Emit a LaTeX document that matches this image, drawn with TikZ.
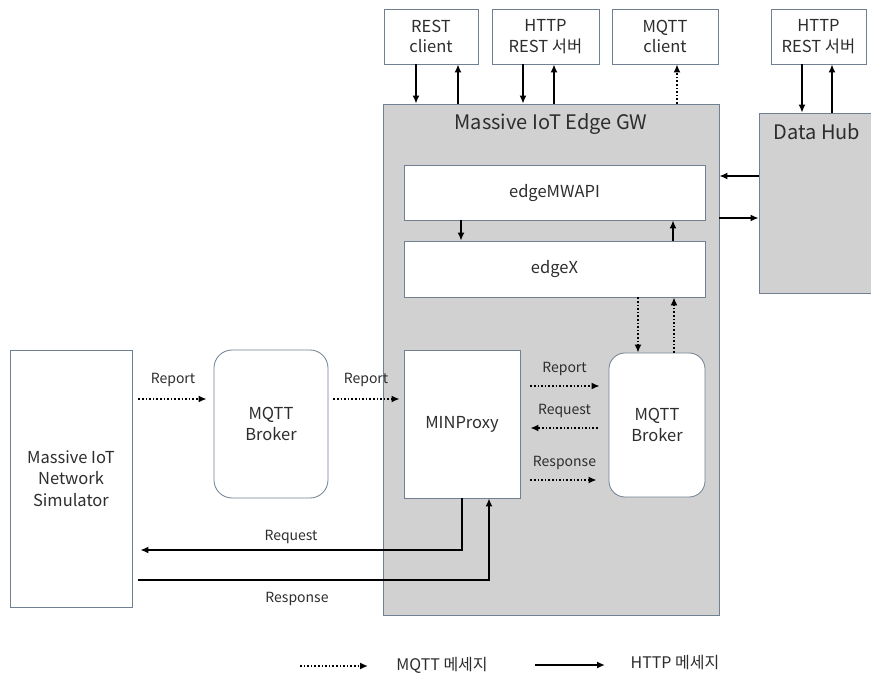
\documentclass[tikz,border=0pt]{standalone}
\usepackage{fontspec}
\setmainfont{Noto Sans CJK KR}
\usepackage{pgf,tikz}
\usetikzlibrary{arrows.meta,calc}
\definecolor{edgecol}{RGB}{112,128,146}
\definecolor{gwgray}{RGB}{209,209,209}
\definecolor{txtgray}{RGB}{45,45,45}
\tikzset{
  blk/.style={draw=edgecol, fill=white, line width=0.8pt, inner sep=0pt, text=txtgray, align=center, font=\fontsize{16.5}{20.5}\selectfont},
  rblk/.style={blk, rounded corners=16pt},
  graybox/.style={draw=edgecol, fill=gwgray, line width=0.8pt, inner sep=0pt},
  http/.style={-{Latex[length=8pt,width=7pt]}, line width=1.6pt, black},
  mqtt/.style={-{Latex[length=8pt,width=7pt]}, line width=1.6pt, dotted, black},
  lbl/.style={font=\fontsize{14}{16}\selectfont, text=txtgray},
}

\begin{document}
\begin{tikzpicture}[x=1pt,y=-1pt]
\path[use as bounding box, clip] (0,0) rectangle (871,679);

% gray blocks
\node[graybox, minimum width=336pt, minimum height=511pt] (gw) at (551,359.5) {};
\node[font=\fontsize{20}{22}\selectfont, text=txtgray] (gwtitle) at (551,124) {Massive IoT Edge GW};
\node[graybox, minimum width=121pt, minimum height=180pt] (hub) at (819.5,203) {};
\node[font=\fontsize{20}{22}\selectfont, text=txtgray] (hubtitle) at (817,132) {Data Hub};

% top clients / servers
\node[blk, minimum width=94pt, minimum height=55pt] (restc) at (431,36.5) {REST\\client};
\node[blk, minimum width=107pt, minimum height=55pt] (https) at (545.5,36.5) {HTTP\\REST 서버};
\node[blk, minimum width=106pt, minimum height=55pt] (mqttc) at (665,36.5) {MQTT\\client};
\node[blk, minimum width=95pt, minimum height=55pt] (hubs) at (818.5,36.5) {HTTP\\REST 서버};

% inside the gateway
\node[blk, minimum width=301pt, minimum height=55pt] (api) at (554.5,192.5) {edgeMWAPI};
\node[blk, minimum width=301pt, minimum height=56pt] (edgex) at (554.5,269) {edgeX};
\node[blk, minimum width=116pt, minimum height=148pt] (minp) at (462,424) {MINProxy};
\node[rblk, minimum width=96pt, minimum height=144pt] (brkin) at (657,425) {MQTT\\Broker};

% left side
\node[rblk, rounded corners=18pt, minimum width=114pt, minimum height=148pt] (brkout) at (271,424) {MQTT\\Broker};
\node[blk, font=\fontsize{16.5}{21.5}\selectfont, minimum width=122pt, minimum height=257pt] (sim) at (71,478.5) {Massive IoT\\Network\\Simulator};

% top arrows
\draw[http] (416,0 |- restc.south) -- (416,0 |- gw.north);
\draw[http] (458,0 |- gw.north) -- (458,0 |- restc.south);
\draw[http] (523,0 |- https.south) -- (523,0 |- gw.north);
\draw[http] (554,0 |- gw.north) -- (554,0 |- https.south);
\draw[mqtt] (677,0 |- gw.north) -- (677,0 |- mqttc.south);
\draw[http] (802,0 |- hubs.south) -- (802,0 |- hub.north);
\draw[http] (832,0 |- hub.north) -- (832,0 |- hubs.south);

% data hub <-> edgeMWAPI
\draw[http] (hub.west |- 0,176) -- (gw.east |- 0,176);
\draw[http] (gw.east |- 0,218) -- (hub.west |- 0,218);

% edgeMWAPI <-> edgeX <-> broker
\draw[http] (461,0 |- api.south) -- (461,0 |- edgex.north);
\draw[http] (673,0 |- edgex.north) -- (673,0 |- api.south);
\draw[mqtt] (638,0 |- edgex.south) -- (638,0 |- brkin.north);
\draw[mqtt] (674,0 |- brkin.north) -- (674,0 |- edgex.south);

% report path
\draw[mqtt, shorten <=6pt, shorten >=7pt] (sim.east |- 0,399) -- node[lbl, above=8pt] (rep1) {Report} (brkout.west |- 0,399);
\draw[mqtt, shorten <=5pt, shorten >=4pt] (brkout.east |- 0,399) -- node[lbl, above=8pt] (rep2) {Report} (minp.west |- 0,399);

% MINProxy <-> broker
\draw[mqtt, shorten <=10pt, shorten >=9pt] (minp.east |- 0,386) -- node[lbl, above=6pt] (rep3) {Report} (brkin.west |- 0,386);
\draw[mqtt, shorten <=11pt, shorten >=10pt] (brkin.west |- 0,428) -- node[lbl, above=6pt] (req1) {Request} (minp.east |- 0,428);
\draw[mqtt, shorten <=10pt, shorten >=12pt] (minp.east |- 0,480) -- node[lbl, above=6pt] (res1) {Response} (brkin.west |- 0,480);

% request / response to simulator
\draw[http, shorten >=8pt] (minp.south) |- (sim.east |- 0,550);
\node[lbl] (req2) at (291,537) {Request};
\draw[http, shorten <=6pt] (sim.east |- 0,580) -| (489,0 |- minp.south);
\node[lbl] (res2) at (297,599) {Response};

% legend
\coordinate (lgma) at (300,666);
\coordinate (lgmb) at (368,666);
\coordinate (lgha) at (535,665);
\coordinate (lghb) at (605,665);
\draw[mqtt] (lgma) -- (lgmb);
\node[lbl, font=\fontsize{16}{18}\selectfont] (lgmt) at (442,665) {MQTT 메세지};
\draw[http] (lgha) -- (lghb);
\node[lbl, font=\fontsize{16}{18}\selectfont] (lght) at (675,663) {HTTP 메세지};
\end{tikzpicture}
\end{document}
